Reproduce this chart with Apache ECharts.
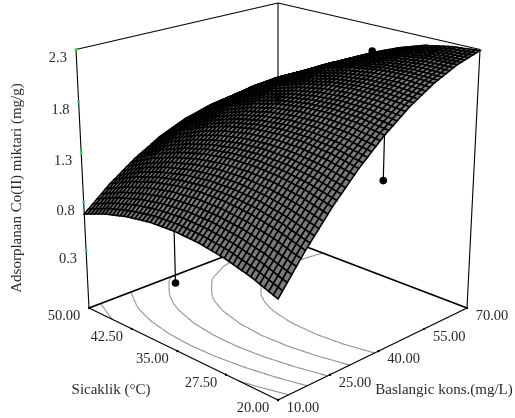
<!DOCTYPE html>
<html><head><meta charset="utf-8">
<style>html,body{margin:0;padding:0;background:#fff}#c{width:515px;height:418px}</style>
<script src="https://cdn.jsdelivr.net/npm/echarts@6/dist/echarts.min.js"></script>
</head><body><div id="c"></div>
<script>
// ---- data ----
const temperatureNodes = [20,23.75,27.5,31.25,35,38.75,42.5,46.25,50];
const concentrationNodes = [10,17.5,25,32.5,40,47.5,55,62.5,70];
// rows: temperature, columns: concentration
const surfaceRow20    = [0.645,0.987,1.291,1.555,1.780,1.966,2.113,2.221,2.290];
const surfaceRow23_75 = [0.745,1.072,1.360,1.610,1.820,1.991,2.123,2.212,2.265];
const surfaceRow27_5  = [0.817,1.130,1.403,1.638,1.833,1.990,2.107,2.175,2.215];
const surfaceRow31_25 = [0.862,1.160,1.419,1.638,1.819,1.961,2.063,2.111,2.130];
const surfaceRow35    = [0.880,1.163,1.407,1.612,1.778,1.904,1.992,2.019,2.020];
const surfaceRow38_75 = [0.871,1.139,1.368,1.558,1.709,1.821,1.894,1.900,1.890];
const surfaceRow42_5  = [0.834,1.088,1.302,1.477,1.613,1.711,1.769,1.755,1.730];
const surfaceRow46_25 = [0.771,1.009,1.209,1.369,1.490,1.573,1.616,1.582,1.550];
const surfaceRow50    = [0.680,0.904,1.088,1.234,1.340,1.407,1.436,1.381,1.340];
const surfaceRows = [surfaceRow20,surfaceRow23_75,surfaceRow27_5,surfaceRow31_25,surfaceRow35,surfaceRow38_75,surfaceRow42_5,surfaceRow46_25,surfaceRow50];
const contourLevels = [0.78,1.02,1.26,1.50,1.74];
const pointTemperature = [35,20,35,35];
const pointConcentration = [10,40,70,40];
const pointResponse = [0.375,1.36,2.035,1.85];
const temperatureTicks = ['50.00','42.50','35.00','27.50','20.00'];
const concentrationTicks = ['10.00','25.00','40.00','55.00','70.00'];
const responseTicks = ['2.3','1.8','1.3','0.8','0.3'];

// ---- view ----
const T0=20,T1=50,C0=10,C1=70,Z0=-0.31,Z1=2.30;
const SUB=6;
const FONT='"Liberation Serif"';
const INK='#2a2a2a';
function project(T,C,Z){
  const a=(T-T0)/(T1-T0), b=(C-C0)/(C1-C0), n=(Z-Z0)/(Z1-Z0);
  const p=b-a, q=a+b-1, w=1+0.122*q-0.0644*n;
  return [278+189*p/w,(308-43.2*q-261.7*n)/w];
}
const nT=temperatureNodes.length-1,nC=concentrationNodes.length-1;
function surfaceAt(T,C){
  const u=Math.min(nT-1e-9,(T-T0)/(T1-T0)*nT), v=Math.min(nC-1e-9,(C-C0)/(C1-C0)*nC);
  const i=Math.floor(u),j=Math.floor(v),s=u-i,t=v-j;
  const R=surfaceRows;
  return R[i][j]*(1-s)*(1-t)+R[i+1][j]*s*(1-t)+R[i][j+1]*(1-s)*t+R[i+1][j+1]*s*t;
}
// cells, ordered from the back corner to the front corner
const cells=[];
for(let i=nT-1;i>=0;i--)for(let j=nC-1;j>=0;j--)
  cells.push([temperatureNodes[i],temperatureNodes[i+1],concentrationNodes[j],concentrationNodes[j+1]]);

function renderCell(params,api){
  const t0=api.value(0),t1=api.value(1),c0=api.value(2),c1=api.value(3);
  const kids=[];
  for(let s=SUB-1;s>=0;s--)for(let r=SUB-1;r>=0;r--){
    const ta=t0+(t1-t0)*s/SUB,tb=t0+(t1-t0)*(s+1)/SUB,ca=c0+(c1-c0)*r/SUB,cb=c0+(c1-c0)*(r+1)/SUB;
    const P=(T,C)=>project(T,C,surfaceAt(T,C));
    kids.push({type:'polygon',shape:{points:[P(ta,ca),P(tb,ca),P(tb,cb),P(ta,cb)]},
      style:{fill:'#7a7a7a',stroke:'#000',lineWidth:1.55,lineJoin:'miter'}});
  }
  return {type:'group',children:kids};
}
function renderContour(params,api){
  const L=api.value(0),kids=[],N=nT*SUB*2,M=nC*SUB*2;
  const tv=i=>T0+(T1-T0)*i/N,cv=j=>C0+(C1-C0)*j/M;
  for(let i=0;i<N;i++)for(let j=0;j<M;j++){
    const pts=[[tv(i),cv(j)],[tv(i+1),cv(j)],[tv(i+1),cv(j+1)],[tv(i),cv(j+1)]];
    const vals=pts.map(p=>surfaceAt(p[0],p[1]));
    const cross=[];
    for(let e=0;e<4;e++){
      const f=(e+1)%4,va=vals[e],vb=vals[f];
      if((va<L)!==(vb<L)){
        const k=(L-va)/(vb-va);
        cross.push(project(pts[e][0]+(pts[f][0]-pts[e][0])*k,pts[e][1]+(pts[f][1]-pts[e][1])*k,Z0));
      }
    }
    for(let m=0;m+1<cross.length;m+=2)
      kids.push({type:'line',shape:{x1:cross[m][0],y1:cross[m][1],x2:cross[m+1][0],y2:cross[m+1][1]},
        style:{stroke:'#8a8a8a',lineWidth:1.1}});
  }
  return {type:'group',children:kids};
}
function edgeItem(params,api){
  const a=project(api.value(0),api.value(1),api.value(2)),b=project(api.value(3),api.value(4),api.value(5));
  return {type:'line',shape:{x1:a[0],y1:a[1],x2:b[0],y2:b[1]},style:{stroke:'#000',lineWidth:api.value(6)}};
}
const edges=[
 [T1,C0,Z1,T1,C1,Z1,1.1],[T1,C1,Z1,T0,C1,Z1,1.1],[T0,C1,Z1,T0,C1,Z0,1.1],[T1,C0,Z1,T1,C0,Z0,1.1],
 [T1,C1,Z1,T1,C1,Z0,1.1],[T1,C0,Z0,T1,C1,Z0,1.8],[T1,C1,Z0,T0,C1,Z0,1.8],
 [T1,C0,Z0,T0,C0,Z0,1.3],[T0,C0,Z0,T0,C1,Z0,1.3]];
function pointItem(params,api){
  const T=api.value(0),C=api.value(1),Z=api.value(2);
  const a=project(T,C,Z),b=project(T,C,surfaceAt(T,C));
  return {type:'group',children:[
    {type:'line',shape:{x1:a[0],y1:a[1],x2:b[0],y2:b[1]},style:{stroke:'#000',lineWidth:1.2}},
    {type:'circle',shape:{cx:a[0],cy:a[1],r:3.8},style:{fill:'#000'}}]};
}
const points=pointTemperature.map((t,i)=>[t,pointConcentration[i],pointResponse[i]]);
const pointsBelow=points.filter(p=>p[2]<surfaceAt(p[0],p[1]));
const pointsAbove=points.filter(p=>p[2]>=surfaceAt(p[0],p[1]));

function label(x,y,text,align){
  return {type:'text',x:x,y:y,style:{text:text,fill:INK,font:'14.5px '+FONT,textAlign:align||'center',textVerticalAlign:'middle'}};
}
function tickItem(kind,texts){
  return function(params,api){
    const v=api.value(0),kids=[],text=texts[params.dataIndex];
    if(kind==='T'){
      const p=project(v,C0,Z0);
      kids.push({type:'circle',shape:{cx:p[0],cy:p[1],r:1.2},style:{fill:'#000'}});
      kids.push(label(p[0]-25,p[1]+8.5,text));
    }else if(kind==='C'){
      const p=project(T0,v,Z0);
      kids.push({type:'circle',shape:{cx:p[0],cy:p[1],r:1.2},style:{fill:'#000'}});
      kids.push(label(p[0]+25,p[1]+8.5,text));
    }else{
      const p=project(T1,C0,v);
      kids.push({type:'circle',shape:{cx:p[0],cy:p[1],r:1.5},style:{fill:'#19e34b'}});
      kids.push(label(p[0]-9,p[1]+8.5,text,'right'));
    }
    return {type:'group',children:kids};
  };
}
const base={type:'custom',coordinateSystem:'none',silent:true,animation:false,progressive:0,clip:false};
const chart=echarts.init(document.getElementById('c'),null,{renderer:'canvas'});
chart.setOption({
  animation:false,backgroundColor:'#fff',
  graphic:[
    {type:'text',x:111,y:390,style:{text:'Sicaklik (°C)',fill:INK,font:'15px '+FONT,textAlign:'center',textVerticalAlign:'middle'}},
    {type:'text',x:444,y:390,style:{text:'Baslangic kons.(mg/L)',fill:INK,font:'15px '+FONT,textAlign:'center',textVerticalAlign:'middle'}},
    {type:'text',x:17,y:188,rotation:Math.PI/2,style:{text:'Adsorplanan Co(II) miktari (mg/g)',fill:INK,font:'15px '+FONT,textAlign:'center',textVerticalAlign:'middle'}}
  ],
  series:[
    Object.assign({},base,{name:'contours',data:contourLevels.map(l=>[l]),renderItem:renderContour}),
    Object.assign({},base,{name:'frame',data:edges,renderItem:edgeItem}),
    Object.assign({},base,{name:'temperature ticks',data:temperatureTicks.map(t=>[+t]),renderItem:tickItem('T',temperatureTicks)}),
    Object.assign({},base,{name:'concentration ticks',data:concentrationTicks.map(t=>[+t]),renderItem:tickItem('C',concentrationTicks)}),
    Object.assign({},base,{name:'response ticks',data:responseTicks.map(t=>[+t]),renderItem:tickItem('Z',responseTicks)}),
    Object.assign({},base,{name:'points below',data:pointsBelow,renderItem:pointItem}),
    Object.assign({},base,{name:'surface',data:cells,renderItem:renderCell}),
    Object.assign({},base,{name:'points above',data:pointsAbove,renderItem:pointItem})
  ]
});
</script></body></html>
